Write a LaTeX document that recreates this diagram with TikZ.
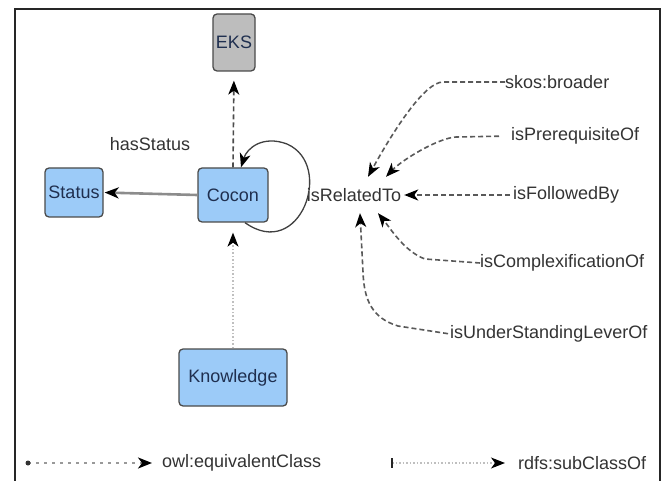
\documentclass[tikz,border=0pt]{standalone}
\usepackage{fontspec}
\setmainfont{Liberation Sans}
\usetikzlibrary{arrows.meta}
\definecolor{clsblue}{HTML}{9CCBF8}
\definecolor{clsgray}{HTML}{BDBDBD}
\definecolor{clsedge}{HTML}{4A4A4A}
\definecolor{clstext}{HTML}{1F2F4F}
\definecolor{lbltext}{HTML}{333333}
\begin{document}
\begin{tikzpicture}[x=1pt,y=-1pt,
  every node/.style={font=\fontsize{18}{20}\selectfont},
  cls/.style={draw=clsedge,line width=1.3pt,rounded corners=4pt,fill=clsblue,text=clstext,inner sep=0pt},
  lbl/.style={text=lbltext,inner sep=0pt,anchor=west},
  tip/.style={-{Stealth[length=14pt,width=11pt,inset=4pt,color=black]}},
  eqline/.style={tip,draw=black!65,line width=1.6pt,dash pattern=on 5pt off 3pt},
  subline/.style={tip,draw=black!25,line width=1.2pt,dash pattern=on 1.5pt off 2pt}]
\useasboundingbox (0,0) rectangle (667,481);
\draw[line width=1.5pt,black!85] (15,481) -- (15,9) -- (660,9) -- (660,481);

% classes
\node[cls,fill=clsgray,minimum width=42pt,minimum height=57pt] (eks) at (234,42.5) {EKS};
\node[cls,minimum width=58pt,minimum height=49pt] (status) at (74,192.5) {Status};
\node[cls,minimum width=70pt,minimum height=54pt] (cocon) at (233,195) {Cocon};
\node[cls,minimum width=108pt,minimum height=57pt] (know) at (233,377.5) {Knowledge};

% labels
\node[lbl,anchor=center] (hs) at (150,144) {hasStatus};
\node[text=lbltext,inner xsep=3pt,inner ysep=0pt,minimum height=36pt] (rel) at (354,195) {isRelatedTo};
\node[lbl] (sb) at (505,82) {skos:broader};
\node[lbl] (pr) at (511,136) {isPrerequisiteOf};
\node[lbl] (fb) at (513,195) {isFollowedBy};
\node[lbl] (cx) at (480,263) {isComplexificationOf};
\node[lbl] (lv) at (450,334) {isUnderStandingLeverOf};

% edges from Cocon
\draw[tip,draw=black!70,line width=1.6pt,dash pattern=on 5pt off 3pt,shorten >=9pt] (cocon.north) -- (eks.south);
\draw[tip,draw=black!45,line width=2.6pt,shorten >=1pt] (cocon.west) -- (status.east);
\draw[subline,shorten >=10pt] (know.north) -- (cocon.south);
\draw[tip,draw=black!75,line width=1.3pt] ([xshift=12pt]cocon.south) .. controls (300,262) and (335,165) .. (287,144) .. controls (263,135) and (247,148) .. ([xshift=8pt]cocon.north);

% sub-properties of isRelatedTo
\draw[eqline] (sb.west) -- (443,82) .. controls (425,82) and (395,128) .. ([xshift=14pt]rel.north);
\draw[eqline,shorten <=12pt] (pr.west) -- (456,137) .. controls (438,138) and (402,160) .. ([xshift=32pt]rel.north);
\draw[eqline,shorten <=3pt] (fb.west) -- (rel.east);
\draw[eqline] (cx.west) -- (425,259) .. controls (405,252) and (390,228) .. ([xshift=24pt]rel.south);
\draw[eqline,shorten <=2pt] (lv.west) -- (398,326) .. controls (372,318) and (364,300) .. (363,272) -- ([xshift=6pt]rel.south);

% legend
\coordinate (eqs) at (28,463);
\coordinate (scs) at (392,463);
\node[lbl] (eqt) at (162,463) {owl:equivalentClass};
\node[lbl] (sct) at (518,463) {rdfs:subClassOf};
\draw[tip,black!40,line width=1.8pt,dash pattern=on 3pt off 5pt,shorten >=10pt] (eqs) -- (eqt.west);
\fill[black!80] (eqs) circle (2.5pt);
\draw[subline,shorten >=13pt] (scs) -- (sct.west);
\draw[black!85,line width=2pt] (392,458) -- (392,468);
\end{tikzpicture}
\end{document}
